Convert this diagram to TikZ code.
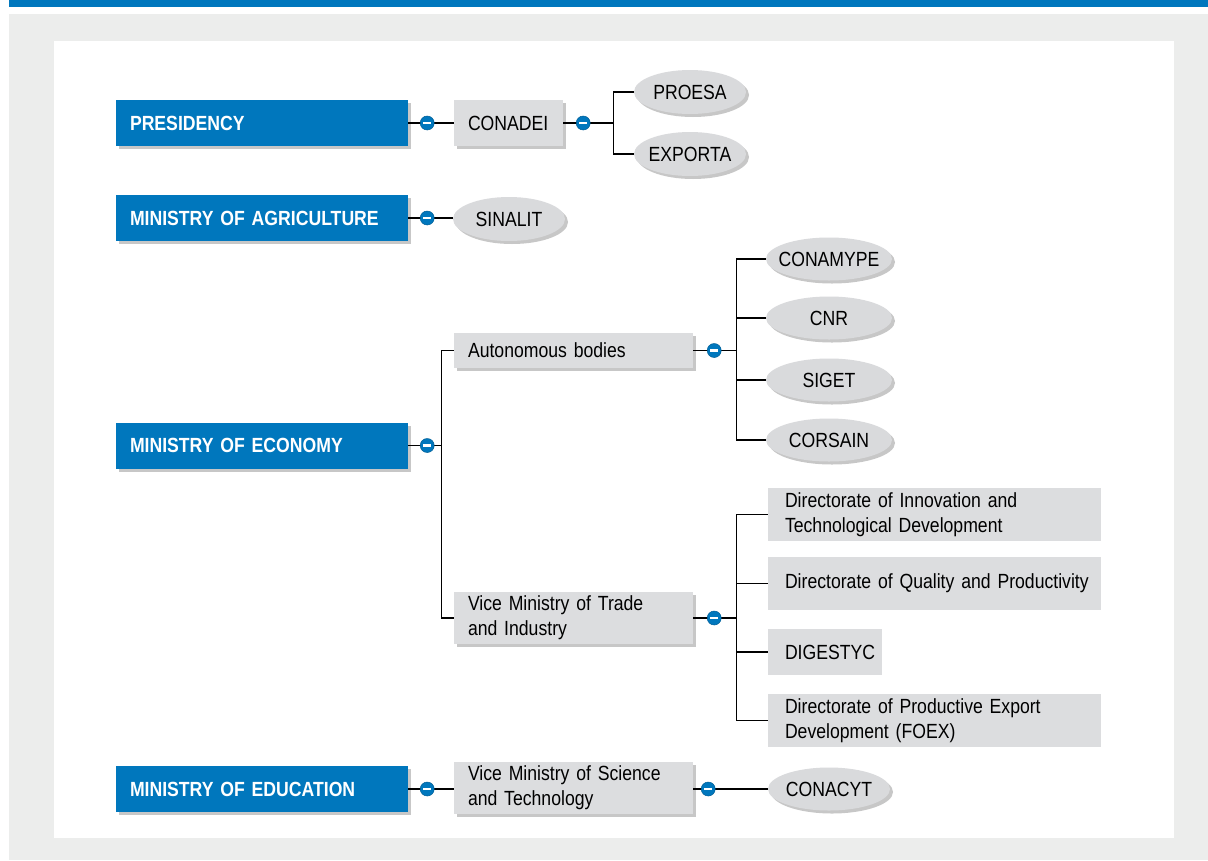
\documentclass[tikz,border=0pt]{standalone}
\usepackage{fontspec}
\setmainfont{Liberation Sans}[FakeStretch=0.86]
\usetikzlibrary{shapes.geometric,shadows,calc}
\hyphenpenalty=10000
\exhyphenpenalty=10000
\DeclareRobustCommand{\nfont}{\fontsize{20.5}{25}\selectfont\spaceskip=4.2pt\relax}
\DeclareRobustCommand{\bfont}{\fontsize{20.5}{25}\selectfont\bfseries\spaceskip=4.6pt\relax}
\definecolor{bblue}{HTML}{0077BD}
\definecolor{boxgray}{HTML}{DCDDDF}
\definecolor{ellgray}{HTML}{D9DADC}
\definecolor{panelgray}{HTML}{ECEDEC}
\tikzset{
  txt/.style={font=\nfont},
  shad/.style={drop shadow={shadow xshift=3pt,shadow yshift=-3pt,opacity=0.22,fill=black}},
  mini/.style={shad,fill=bblue,text=white,font=\bfont,
     minimum width=292pt,minimum height=46pt,inner xsep=14pt,inner ysep=0pt,
     text width=264pt,align=left},
  gbox/.style={txt,shad,fill=boxgray,inner xsep=14pt,inner ysep=0pt,align=left},
  dbox/.style={txt,fill=boxgray,inner xsep=17pt,inner ysep=0pt,align=left},
  oval/.style={txt,shad,ellipse,fill=ellgray,inner sep=0pt},
  conn/.style={line width=1.3pt,black},
  minus/.style={circle,fill=bblue,draw=bblue!80!black,line width=0.5pt,minimum size=14pt,inner sep=0pt,
     path picture={\fill[white] ([xshift=-4.2pt,yshift=-1.4pt]path picture bounding box.center)
       rectangle ([xshift=4.2pt,yshift=1.4pt]path picture bounding box.center);}}
}
\newcommand{\ctext}[1]{\makebox[0pt]{#1}}
\begin{document}
\begin{tikzpicture}[x=1pt,y=-1pt]
\useasboundingbox (0,0) rectangle (1208,860);
% background
\fill[white] (0,0) rectangle (1208,860);
\fill[bblue] (9,0) rectangle (1208,7);
\fill[panelgray] (9,14) rectangle (1208,860);
\fill[white] (54,41) rectangle (1174,838);

% ministries
\node[mini] (pres) at (262,123) {PRESIDENCY};
\node[mini] (agri) at (262,218) {MINISTRY OF AGRICULTURE};
\node[mini] (econ) at (262,445.5) {MINISTRY OF ECONOMY};
\node[mini] (educ) at (262,789) {MINISTRY OF EDUCATION};

% second level
\node[gbox,text width=81pt,minimum height=46pt] (conadei) at (508.5,123) {CONADEI};
\node[gbox,text width=211pt,minimum height=35pt] (auto) at (573.5,350.5) {Autonomous bodies};
\node[gbox,text width=211pt,minimum height=52pt] (vtrade) at (573.5,618) {Vice Ministry of Trade\\and Industry};
\node[gbox,text width=211pt,minimum height=52pt] (vsci) at (573.5,788) {Vice Ministry of Science\\and Technology};

% ovals
\node[oval,minimum width=112pt,minimum height=44pt] (proesa) at (690,92) {\ctext{PROESA}};
\node[oval,minimum width=112pt,minimum height=44pt] (exporta) at (690,154) {\ctext{EXPORTA}};
\node[oval,minimum width=112pt,minimum height=44pt] (sinalit) at (509,219) {\ctext{SINALIT}};
\node[oval,minimum width=126pt,minimum height=43pt] (conamype) at (829,259) {\ctext{CONAMYPE}};
\node[oval,minimum width=126pt,minimum height=43pt] (cnr) at (829,318) {\ctext{CNR}};
\node[oval,minimum width=126pt,minimum height=43pt] (siget) at (829,380) {\ctext{SIGET}};
\node[oval,minimum width=126pt,minimum height=43pt] (corsain) at (829,440) {\ctext{CORSAIN}};
\node[oval,minimum width=122pt,minimum height=43pt] (conacyt) at (829,789) {\ctext{CONACYT}};

% directorates
\node[dbox,text width=299pt,minimum height=53pt] (dinn) at (934.5,514.5) {Directorate of Innovation and\\Technological Development};
\node[dbox,text width=299pt,minimum height=53pt] (dqual) at (934.5,583.5) {\mbox{Directorate of Quality and Productivity}};
\node[dbox,text width=80pt,minimum height=46pt] (digestyc) at (825,652) {DIGESTYC};
\node[dbox,text width=299pt,minimum height=53pt] (dfoex) at (934.5,720.5) {Directorate of Productive Export\\Development (FOEX)};

% connectors: presidency
\draw[conn] (pres.east) -- (conadei.west);
\node[minus] (m1) at ($(pres.east)+(19,0)$) {};
\draw[conn] (conadei.east) -- ++(50,0) coordinate (b1);
\draw[conn] (b1 |- proesa.west) -- (b1 |- exporta.west);
\draw[conn] (b1 |- proesa.west) -- (proesa.west);
\draw[conn] (b1 |- exporta.west) -- (exporta.west);
\node[minus] (m2) at ($(conadei.east)+(20,0)$) {};

% agriculture
\draw[conn] (agri.east) -- (agri.east -| sinalit.west);
\node[minus] (m3) at ($(agri.east)+(19,0)$) {};

% economy
\draw[conn] (econ.east) -- ++(33,0) coordinate (b2);
\draw[conn] (b2 |- auto.west) -- (b2 |- vtrade.west);
\draw[conn] (b2 |- auto.west) -- (auto.west);
\draw[conn] (b2 |- vtrade.west) -- (vtrade.west);
\node[minus] (m4) at ($(econ.east)+(19,0)$) {};

\draw[conn] (auto.east) -- ++(43,0) coordinate (b3);
\draw[conn] (b3 |- conamype.west) -- (b3 |- corsain.west);
\foreach \n in {conamype,cnr,siget,corsain}{
  \draw[conn] (b3 |- \n.west) -- (\n.west);
}
\node[minus] (m5) at ($(auto.east)+(21,0)$) {};

\draw[conn] (vtrade.east) -- ++(43,0) coordinate (b4);
\draw[conn] (b4 |- dinn.west) -- (b4 |- dfoex.west);
\foreach \n in {dinn,dqual,digestyc,dfoex}{
  \draw[conn] (b4 |- \n.west) -- (\n.west);
}
\node[minus] (m6) at ($(vtrade.east)+(21,0)$) {};

% education
\draw[conn] (educ.east) -- (educ.east -| vsci.west);
\node[minus] (m7) at ($(educ.east)+(19,0)$) {};
\draw[conn] (vsci.east |- conacyt.west) -- (conacyt.west);
\node[minus] (m8) at ($(vsci.east |- conacyt.west)+(15,0)$) {};
\end{tikzpicture}
\end{document}
